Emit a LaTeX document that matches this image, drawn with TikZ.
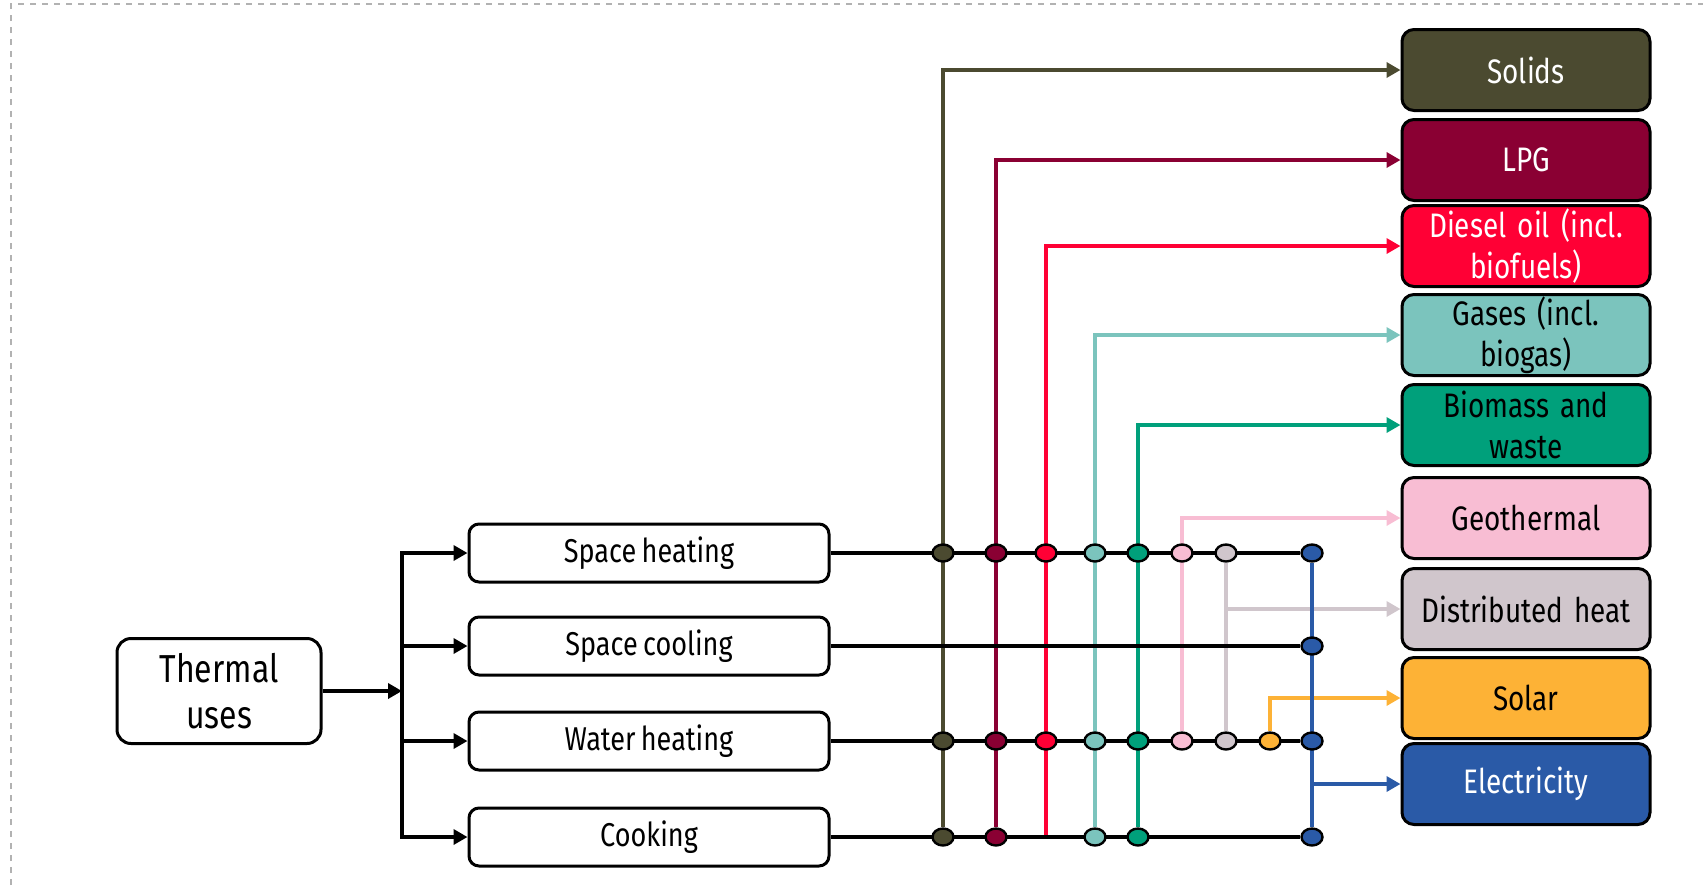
\documentclass[tikz,border=0pt]{standalone}
\usepackage{fontspec}
\setmainfont[FakeStretch=0.82,WordSpace=0.75]{Fira Sans}
\usetikzlibrary{arrows.meta,shapes.geometric,backgrounds}

\definecolor{solidscol}{HTML}{4B4A30}
\definecolor{lpgcol}{HTML}{8A0033}
\definecolor{dieselcol}{HTML}{FF0035}
\definecolor{gasescol}{HTML}{7BC4BD}
\definecolor{biomasscol}{HTML}{00A07B}
\definecolor{geocol}{HTML}{F8BDD3}
\definecolor{dheatcol}{HTML}{D0C6CC}
\definecolor{solarcol}{HTML}{FDB236}
\definecolor{eleccol}{HTML}{2A5AA7}

\tikzset{
  usebox/.style={draw, rounded corners=5pt, line width=1.5pt, minimum width=180pt,
    minimum height=29pt, font=\fontsize{16.5}{19}\selectfont},
  fuelbox/.style={draw, rounded corners=6pt, line width=1.5pt, fill=#1col,
    minimum width=124pt, minimum height=40.5pt, text width=120pt, align=center,
    inner sep=0pt, font=\fontsize{17}{20.5}\selectfont},
  flow/.style={line width=2.4pt, ->},
  feed/.style={line width=2.1pt, draw=#1col},
  junction/.style={ellipse, draw, line width=1.2pt, fill=#1col, minimum width=10.5pt,
    minimum height=8.5pt, inner sep=0pt},
}

\begin{document}
\begin{tikzpicture}[x=0.5pt,y=-0.5pt,>={Triangle[length=7pt,width=7.5pt]}]
\useasboundingbox (0,0) rectangle (1703,885);
\draw[gray!60,dashed,line width=0.6pt] (11,885) -- (11,4) -- (1703,4);

% uses
\node[usebox,rounded corners=7pt,minimum width=102pt,minimum height=52.5pt,align=center,
  font=\fontsize{19.5}{23}\selectfont] (thermal) at (219,691) {Thermal\\uses};
\node[usebox] (sheat) at (649,553) {Space heating};
\node[usebox] (scool) at (649,646) {Space cooling};
\node[usebox] (wheat) at (649,741) {Water heating};
\node[usebox] (cook) at (649,837) {Cooking};
\coordinate (bus) at (402,691);

% fuels
\node[fuelbox=solids,text=white] (solids) at (1526,70) {Solids};
\node[fuelbox=lpg,text=white] (lpg) at (1526,160) {LPG};
\node[fuelbox=diesel,text=white] (diesel) at (1526,246) {Diesel oil (incl.\\biofuels)};
\node[fuelbox=gases] (gases) at (1526,335) {Gases (incl.\\biogas)};
\node[fuelbox=biomass] (biomass) at (1526,425) {Biomass and\\waste};
\node[fuelbox=geo] (geo) at (1526,518) {Geothermal};
\node[fuelbox=dheat] (dheat) at (1526,609) {Distributed heat};
\node[fuelbox=solar] (solar) at (1526,698) {Solar};
\node[fuelbox=elec,text=white] (elec) at (1526,784) {Electricity};

% junctions
\foreach \f/\x in {solids/943,lpg/996,diesel/1046,gases/1095,biomass/1138,geo/1182,dheat/1226,solar/1270,elec/1312}
  \coordinate (\f-x) at (\x,0);
\foreach \f in {solids,lpg,diesel,gases,biomass,geo,dheat,elec}
  \node[junction=\f] (sh-\f) at (\f-x |- sheat) {};
\node[junction=elec] (sc-elec) at (elec-x |- scool) {};
\foreach \f in {solids,lpg,diesel,gases,biomass,geo,dheat,solar,elec}
  \node[junction=\f] (wh-\f) at (\f-x |- wheat) {};
\foreach \f in {solids,lpg,gases,biomass,elec}
  \node[junction=\f] (ck-\f) at (\f-x |- cook) {};

\begin{scope}[on background layer]
\draw[flow] (thermal) -- (bus);
\draw[flow,-,line cap=rect] (bus |- sheat) -- (bus |- cook);
\foreach \u in {sheat,scool,wheat,cook}
  \draw[flow] (bus |- \u) -- (\u.west);
% fuel lines
\draw[feed=solids,->] (ck-solids) |- (solids.west);
\draw[feed=lpg,->] (ck-lpg) |- (lpg.west);
\draw[feed=diesel,->] (diesel-x |- cook) |- (diesel.west);
\draw[feed=gases,->] (ck-gases) |- (gases.west);
\draw[feed=biomass,->] (ck-biomass) |- (biomass.west);
\draw[feed=geo,->] (wh-geo) |- (geo.west);
\draw[feed=dheat] (sh-dheat) -- (wh-dheat);
\draw[feed=dheat,->] (sh-dheat |- dheat) -- (dheat.west);
\draw[feed=solar,->] (wh-solar) |- (solar.west);
\draw[feed=elec] (sh-elec) -- (ck-elec);
\draw[feed=elec,->] (sh-elec |- elec) -- (elec.west);
% use lines
\draw[line width=2.2pt] (sheat) -- (sh-elec);
\draw[line width=2.2pt] (scool) -- (sc-elec);
\draw[line width=2.2pt] (wheat) -- (wh-elec);
\draw[line width=2.2pt] (cook) -- (ck-elec);
\end{scope}
\end{tikzpicture}
\end{document}
